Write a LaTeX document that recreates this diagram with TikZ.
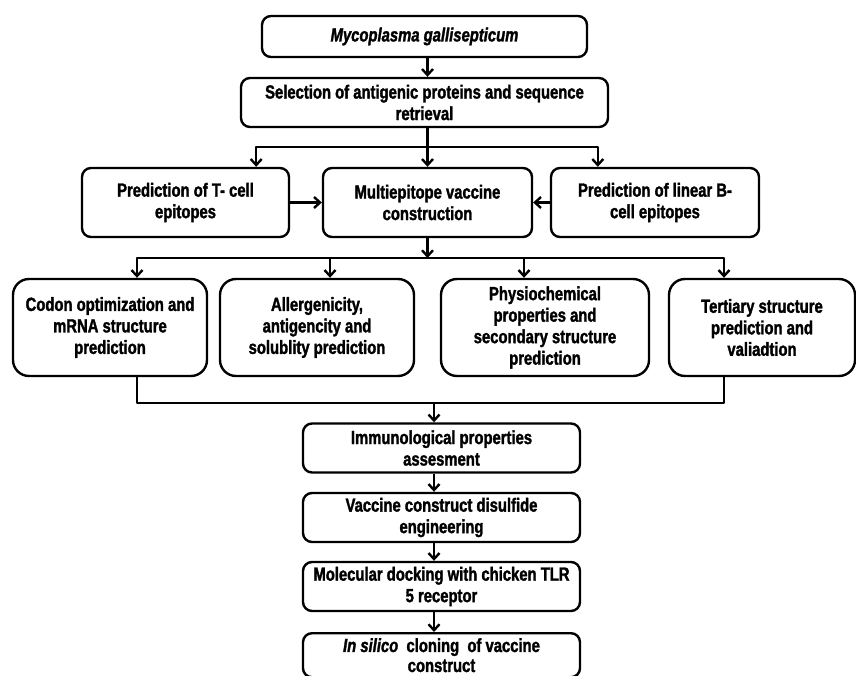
\documentclass[tikz,border=0pt]{standalone}
\usepackage{fontspec}
\setmainfont{Liberation Sans}[FakeStretch=0.78,BoldFeatures={FakeBold=1.6},BoldItalicFeatures={FakeBold=1.6}]
\usetikzlibrary{arrows.meta,calc}

\begin{document}
\begin{tikzpicture}[x=1pt,y=-1pt,line join=round,line width=2.4pt,
  box/.style={draw,rounded corners=9pt,align=center,inner sep=0pt,font=\bfseries\fontsize{19}{21.5}\selectfont},
  midbox/.style={box,minimum height=69pt},
  bigbox/.style={box,rounded corners=16pt,minimum height=97pt},
  lowbox/.style={box,minimum width=277pt,minimum height=49pt},
  arr/.style={-{Straight Barb[length=6pt,width=11pt]}}]
\useasboundingbox[fill=white] (0,0) rectangle (856,676);
\node[box,minimum width=325pt,minimum height=41pt] (myco) at (424.5,36.5) {\textit{Mycoplasma gallisepticum}};
\node[box,minimum width=367pt,minimum height=49pt] (sel) at (424.5,102.5) {Selection of antigenic proteins and sequence\\retrieval};
\node[midbox,minimum width=207pt] (tcell) at (185.5,202.5) {Prediction of T- cell\\epitopes};
\node[midbox,minimum width=209pt] (multi) at (427.5,202.5) {Multiepitope vaccine\\construction};
\node[midbox,minimum width=208pt] (bcell) at (655,202.5) {Prediction of linear B-\\cell epitopes};
\node[bigbox,minimum width=194pt] (codon) at (110,327.5) {Codon optimization and\\mRNA structure\\prediction};
\node[bigbox,minimum width=194pt] (allerg) at (317,327.5) {Allergenicity,\\antigencity and\\solublity prediction};
\node[bigbox,minimum width=208pt] (physio) at (545,327.5) {Physiochemical\\properties and\\secondary structure\\prediction};
\node[bigbox,minimum width=186pt] (tert) at (762,327.5) {Tertiary structure\\prediction and\\valiadtion};
\node[lowbox] (immu) at (441.5,448) {Immunological properties\\assesment};
\node[lowbox] (vacc) at (441.5,517.5) {Vaccine construct disulfide\\engineering};
\node[lowbox] (dock) at (441.5,586.5) {Molecular docking with chicken TLR\\5 receptor};
\node[lowbox,minimum height=44pt,anchor=north,font=\bfseries\fontsize{19}{20}\selectfont] (clon) at (441.5,632) {\textit{In silico}\ \ cloning\ \ of vaccine\\construct};
\coordinate (b1) at (427.5,147);
\coordinate (b2) at (427.5,258);
\coordinate (m) at (434,403);
\draw[arr] (myco.south -| b1) -- (sel.north -| b1);
\draw (sel.south -| b1) -- (b1);
\draw[arr] (b1) -| ([xshift=-34pt]tcell.north east);
\draw[arr] (b1) -- (multi.north);
\draw[arr] (b1) -| ([xshift=48pt]bcell.north west);
\draw[arr] (tcell) -- (multi);
\draw[arr] (bcell) -- (multi);
\draw[arr] (multi.south) -- (b2);
\draw[arr] (b2) -| ([xshift=27pt]codon.north);
\draw[arr] (b2) -| ([xshift=13pt]allerg.north);
\draw[arr] (b2) -| ([xshift=-21pt]physio.north);
\draw[arr] (b2) -| ([xshift=-38pt]tert.north);
\draw ([xshift=27pt]codon.south) |- (m) -| ([xshift=-38pt]tert.south);
\draw[arr] (m) -- ([xshift=-7.5pt]immu.north);
\draw[arr] ([xshift=-7.5pt]immu.south) -- ([xshift=-7.5pt]vacc.north);
\draw[arr] ([xshift=-7.5pt]vacc.south) -- ([xshift=-7.5pt]dock.north);
\draw[arr] ([xshift=-7.5pt]dock.south) -- ([xshift=-7.5pt]clon.north);
\end{tikzpicture}
\end{document}
